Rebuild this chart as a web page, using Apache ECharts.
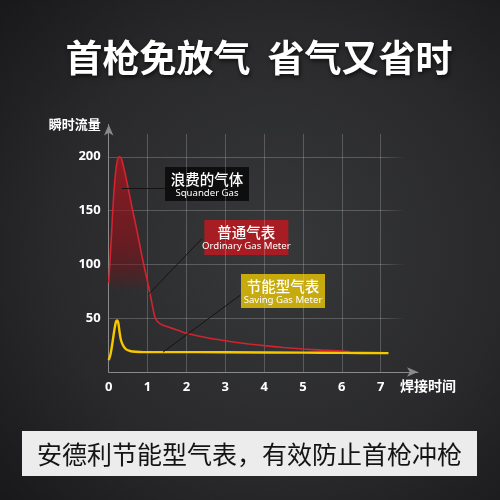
<!DOCTYPE html>
<html>
<head>
<meta charset="utf-8">
<script src="https://cdn.jsdelivr.net/npm/echarts@6/dist/echarts.min.js"></script>
<style>
html,body{margin:0;padding:0;background:#1b1b1d;}
#c{width:500px;height:500px;}
</style>
</head>
<body>
<div id="c"></div>
<script>
// ---- data ----
const titleText = '首枪免放气  省气又省时';
const bannerText = '安德利节能型气表，有效防止首枪冲枪';
const yAxisName = '瞬时流量';
const xAxisName = '焊接时间';

const ordinaryX = [0, 0.06, 0.13, 0.2, 0.27, 0.32, 0.4, 0.5, 0.6, 0.7, 0.8, 0.9, 1.0, 1.08, 1.15, 1.2, 1.28, 1.4, 1.6, 1.8, 2, 2.5, 3, 3.5, 4, 4.5, 5, 5.5, 6, 6.2];
const ordinaryY = [83, 120, 165, 192, 200, 199, 188, 171, 153, 136, 118, 100, 84, 70, 57, 50, 46, 43.5, 41, 38.5, 36, 32, 29, 26.5, 24.5, 22.8, 21.4, 20.3, 19.5, 19];

const savingX = [0, 0.05, 0.1, 0.15, 0.19, 0.22, 0.25, 0.28, 0.32, 0.38, 0.45, 0.55, 0.7, 0.9, 1.5, 3, 5, 6, 7.2];
const savingY = [11, 17, 28, 40, 47, 48, 45, 37, 29, 24, 21, 19.5, 18.8, 18.5, 18.5, 18.3, 18, 17.8, 17.5];

const noteCN = ['浪费的气体', '普通气表', '节能型气表'];
const noteEN = ['Squander Gas', 'Ordinary Gas Meter', 'Saving Gas Meter'];
// leader lines [from, to] in data space
const leaderFrom = [[0.34, 171], [1.02, 72], [1.4, 18.5]];
const leaderTo = [[1.45, 171], [2.4, 124], [3.39, 71.5]];

const ordinaryData = ordinaryX.map((x, i) => [x, ordinaryY[i]]);
const savingData = savingX.map((x, i) => [x, savingY[i]]);

const gridColor = 'rgba(210,210,210,0.26)';
const hGrid = { type: 'linear', x: 0, y: 0, x2: 1, y2: 0, colorStops: [
  { offset: 0, color: gridColor }, { offset: 0.88, color: gridColor }, { offset: 0.95, color: 'rgba(210,210,210,0)' }, { offset: 1, color: 'rgba(210,210,210,0)' } ] };
const vGrid = { type: 'linear', x: 0, y: 0, x2: 0, y2: 1, colorStops: [
  { offset: 0, color: 'rgba(210,210,210,0)' }, { offset: 0.045, color: 'rgba(210,210,210,0)' }, { offset: 0.05, color: gridColor }, { offset: 1, color: gridColor } ] };

const boxFills = ['#0e0e0f', '#a81d23', '#c6aa0e'];
const boxRects = [[165, 167, 84, 34], [202, 220, 84, 35], [241, 274, 84, 34]];

const graphics = [];
boxRects.forEach((r, i) => {
  graphics.push({
    type: 'group', left: r[0], top: r[1], children: [
      { type: 'rect', shape: { x: 0, y: 0, width: r[2], height: r[3] }, style: { fill: boxFills[i] } },
      { type: 'text', x: r[2] / 2, y: 12, style: { text: noteCN[i], fill: '#ffffff', font: '500 14.5px "Noto Sans CJK SC"', textAlign: 'center', textVerticalAlign: 'middle' } },
      { type: 'text', x: r[2] / 2, y: 26, style: { text: noteEN[i], fill: '#ffffff', font: '9.6px "Noto Sans"', textAlign: 'center', textVerticalAlign: 'middle' } }
    ]
  });
});
graphics.push({
  type: 'group', left: 22, top: 431, children: [
    { type: 'rect', shape: { x: 0, y: 0, width: 455, height: 45 }, style: { fill: '#ececec' } },
    { type: 'text', x: 227.5, y: 23, style: { text: bannerText, fill: '#141414', font: '25px "Noto Sans CJK SC"', textAlign: 'center', textVerticalAlign: 'middle' } }
  ]
});

const chart = echarts.init(document.getElementById('c'), null, { renderer: 'canvas' });
chart.setOption({
  animation: false,
  backgroundColor: { type: 'radial', x: 0.55, y: 0.5, r: 0.75, colorStops: [
    { offset: 0, color: '#37383a' }, { offset: 0.6, color: '#29292b' }, { offset: 1, color: '#18181a' } ] },
  title: {
    text: titleText, left: 259, top: 58, textAlign: 'center', textVerticalAlign: 'middle', padding: 0,
    textStyle: { color: '#ffffff', fontSize: 37, fontWeight: 'bold', fontFamily: '"Noto Sans CJK SC"',
      textShadowColor: 'rgba(0,0,0,0.7)', textShadowBlur: 4, textShadowOffsetX: 1, textShadowOffsetY: 2 }
  },
  grid: { left: 108.7, right: 82, top: 124.5, bottom: 128, containLabel: false },
  xAxis: {
    type: 'value', min: 0, max: 7.96, interval: 1,
    name: xAxisName, nameLocation: 'end', nameGap: -18,
    nameTextStyle: { color: '#ffffff', fontSize: 14, fontWeight: 'bold', fontFamily: '"Noto Sans CJK SC"', align: 'left', verticalAlign: 'top', padding: [7, 0, 0, 0] },
    axisLine: { show: true, symbol: ['none', 'arrow'], symbolSize: [7, 11], lineStyle: { color: '#8a8a8a', width: 1 } },
    axisTick: { show: false },
    axisLabel: { color: '#ffffff', fontSize: 13, fontWeight: 'bold', fontFamily: '"Noto Sans"', margin: 9, showMaxLabel: false },
    splitLine: { show: true, showMinLine: false, showMaxLine: false, lineStyle: { color: vGrid, width: 1 } }
  },
  yAxis: {
    type: 'value', min: 0, max: 230, interval: 50,
    name: yAxisName, nameLocation: 'end', nameGap: 0,
    nameTextStyle: { color: '#ffffff', fontSize: 13, fontWeight: 'bold', fontFamily: '"Noto Sans CJK SC"', align: 'right', verticalAlign: 'middle', padding: [0, 8, 0, 0] },
    axisLine: { show: true, symbol: ['none', 'arrow'], symbolSize: [7, 11], lineStyle: { color: '#8a8a8a', width: 1 } },
    axisTick: { show: false },
    axisLabel: { color: '#ffffff', fontSize: 13, fontWeight: 'bold', fontFamily: '"Noto Sans"', margin: 8, showMinLabel: false, showMaxLabel: false },
    splitLine: { show: true, showMinLine: false, showMaxLine: false, lineStyle: { color: hGrid, width: 1 } }
  },
  series: [
    {
      name: '普通气表', type: 'line', data: ordinaryData, smooth: 0.3, showSymbol: false,
      lineStyle: { color: '#d2232f', width: 1.6 },
      areaStyle: { color: { type: 'linear', x: 0, y: 0, x2: 0, y2: 1, colorStops: [
        { offset: 0, color: 'rgba(185,20,30,0.95)' }, { offset: 0.4, color: 'rgba(145,16,24,0.85)' },
        { offset: 0.52, color: 'rgba(130,15,22,0.6)' }, { offset: 0.63, color: 'rgba(130,15,22,0)' }, { offset: 1, color: 'rgba(130,15,22,0)' } ] } },
      markLine: {
        silent: true, symbol: ['none', 'none'], label: { show: false },
        lineStyle: { color: '#141414', width: 1, type: 'solid' },
        data: leaderFrom.map((f, i) => [{ coord: f }, { coord: leaderTo[i] }])
      },
      z: 2
    },
    {
      name: '节能型气表', type: 'line', data: savingData, smooth: 0.3, showSymbol: false,
      lineStyle: { color: '#f7c800', width: 2.4 }, z: 3
    }
  ],
  graphic: graphics
});
</script>
</body>
</html>
